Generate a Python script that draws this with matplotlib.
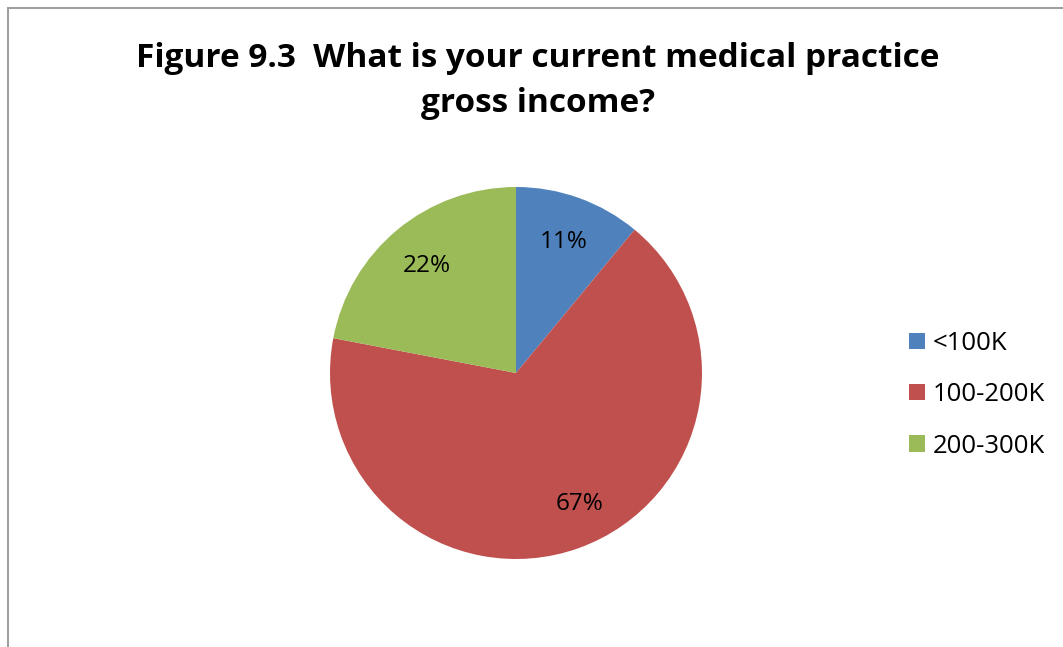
import matplotlib.pyplot as plt
from matplotlib.patches import Rectangle

categories = ["<100K", "100-200K", "200-300K"]
shares = [11, 67, 22]
colors = ["#4F81BD", "#C0504D", "#9BBB59"]
title = "Figure 9.3  What is your current medical practice\ngross income?"

FONT = ["Open Sans", "DejaVu Sans"]
W, H = 1063, 647
fig = plt.figure(figsize=(W / 100, H / 100), dpi=100)
fig.patch.set_facecolor("white")

# outer chart frame
fig.patches.append(Rectangle((7.5 / W, -0.01), 1.05, (H - 8) / H + 0.01,
                             transform=fig.transFigure, fill=False,
                             edgecolor="#a0a0a0", linewidth=1.5))

fig.text(538 / W, 1 - 81 / H, title, ha="center", va="center",
         fontsize=24, fontweight="bold", family=FONT,
         linespacing=1.48, color="#000000")

cx, cy, r = 516, 373, 186
ax = fig.add_axes([(cx - r) / W, (H - cy - r) / H, 2 * r / W, 2 * r / H])
wedges, texts, autotexts = ax.pie(
    shares, colors=colors, startangle=90, counterclock=False,
    autopct=lambda p: f"{p:.0f}%", pctdistance=0.75,
    wedgeprops=dict(linewidth=0),
    textprops=dict(fontsize=17.5, family=FONT, color="#000000"))
# nudge the large-slice label slightly to the right
x0, y0 = autotexts[1].get_position()
autotexts[1].set_position((x0 + 0.085, y0))
ax.set_xlim(-1, 1)
ax.set_ylim(-1, 1)
ax.set_aspect("equal")
ax.axis("off")

leg = fig.legend(wedges, categories, loc="upper left",
                 bbox_to_anchor=(886 / W, 1 - 308 / H), frameon=False,
                 prop=dict(size=18.5, family=FONT),
                 handlelength=0.6, handleheight=0.6, handletextpad=0.3,
                 labelspacing=1.02)

fig.savefig("out.png", dpi=100, facecolor="white")
